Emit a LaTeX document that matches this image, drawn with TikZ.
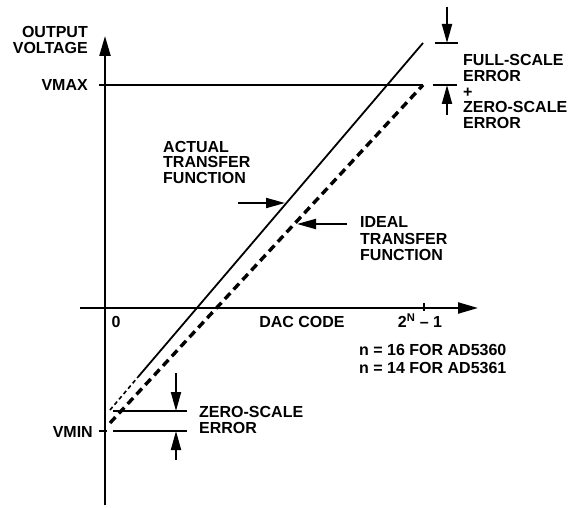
\documentclass[tikz,border=0pt]{standalone}
\usepackage{fontspec}
\setmainfont{Liberation Sans}
\usetikzlibrary{arrows.meta}
\begin{document}
\begin{tikzpicture}[x=1pt,y=-1pt,
  lbl/.style={inner sep=0pt, font=\fontsize{16}{15.7}\selectfont\bfseries},
  axis/.style={line width=2.2pt, -{Triangle[length=20pt,width=11pt]}},
  ptr/.style={line width=2pt, -{Triangle[length=19pt,width=10pt]}},
  refline/.style={line width=1.2pt},
  actline/.style={line width=1.8pt},
  actdash/.style={line width=1.6pt, dash pattern=on 4pt off 3pt},
  idealdash/.style={line width=3.4pt, dash pattern=on 8pt off 5pt}]
\useasboundingbox[fill=white] (0,0) rectangle (568,508);
% axes
\coordinate (yb) at (105,505); \coordinate (yt) at (105,36);
\coordinate (xl) at (80,308); \coordinate (xr) at (478,308);
\draw[axis] (yb) -- (yt);
\draw[axis] (xl) -- (xr);
% reference lines and ticks
\coordinate (vmaxL) at (99,85); \coordinate (vmaxR) at (423,85);
\draw[refline] (vmaxL) -- (vmaxR);
\coordinate (vminL) at (99,431); \coordinate (vminR) at (107,431);
\draw[refline] (vminL) -- (vminR);
\coordinate (tickT) at (424,303); \coordinate (tickB) at (424,311);
\draw[refline] (tickT) -- (tickB);
% transfer functions
\coordinate (A0) at (110,410); \coordinate (Am) at (138,377); \coordinate (A1) at (423,43);
\draw[actdash] (A0) -- (Am);
\draw[actline] (Am) -- (A1);
\coordinate (I0) at (110,423); \coordinate (I1) at (423,85);
\draw[idealdash] (I0) -- (I1);
% zero-scale error markers
\coordinate (zs1L) at (113,411); \coordinate (zs1R) at (187,411);
\coordinate (zs2L) at (113,431); \coordinate (zs2R) at (187,431);
\draw[refline] (zs1L) -- (zs1R);
\draw[refline] (zs2L) -- (zs2R);
\coordinate (zsa1) at (176,373); \coordinate (zsa1t) at (176,411);
\coordinate (zsa2) at (176,460); \coordinate (zsa2t) at (176,431);
\draw[ptr] (zsa1) -- (zsa1t);
\draw[ptr] (zsa2) -- (zsa2t);
% full-scale error markers
\coordinate (fs1L) at (435,43); \coordinate (fs1R) at (458,43);
\coordinate (fs2L) at (433,85); \coordinate (fs2R) at (457,85);
\draw[refline] (fs1L) -- (fs1R);
\draw[refline] (fs2L) -- (fs2R);
\coordinate (fsa1) at (447,7); \coordinate (fsa1t) at (447,43);
\coordinate (fsa2) at (447,115); \coordinate (fsa2t) at (447,85);
\draw[ptr] (fsa1) -- (fsa1t);
\draw[ptr] (fsa2) -- (fsa2t);
% pointers
\coordinate (actT) at (238,203); \coordinate (actH) at (285,203);
\draw[ptr] (actT) -- (actH);
\coordinate (idT) at (347,224); \coordinate (idH) at (297,224);
\draw[ptr] (idT) -- (idH);
% labels
\node[lbl, anchor=base east, align=right] (ov) at (88,53.5) {OUTPUT\\VOLTAGE};
\node[lbl, anchor=base east] (vmax) at (88,91) {VMAX};
\node[lbl, anchor=base east] (vmin) at (93,437) {VMIN};
\node[lbl, anchor=base] (zero) at (116,327.5) {0};
\node[lbl, anchor=base] (dac) at (302,327.5) {DAC CODE};
\node[lbl, anchor=base] (full) at (420,327.5) {2\textsuperscript{N} – 1};
\node[lbl, anchor=base west, align=left] (nn) at (359,373.5) {n = 16 FOR AD5360\\[2.3pt]n = 14 FOR AD5361};
\node[lbl, anchor=base west, align=left] (act) at (163,183.5) {ACTUAL\\TRANSFER\\FUNCTION};
\node[lbl, anchor=base west, align=left] (ideal) at (360,260.5) {IDEAL\\[0.8pt]TRANSFER\\[0.8pt]FUNCTION};
\node[lbl, anchor=base west, align=left] (fse) at (463,128.5) {FULL-SCALE\\ERROR\\+\\ZERO-SCALE\\ERROR};
\node[lbl, anchor=base west, align=left] (zse) at (199,433.5) {ZERO-SCALE\\ERROR};
\end{tikzpicture}
\end{document}
